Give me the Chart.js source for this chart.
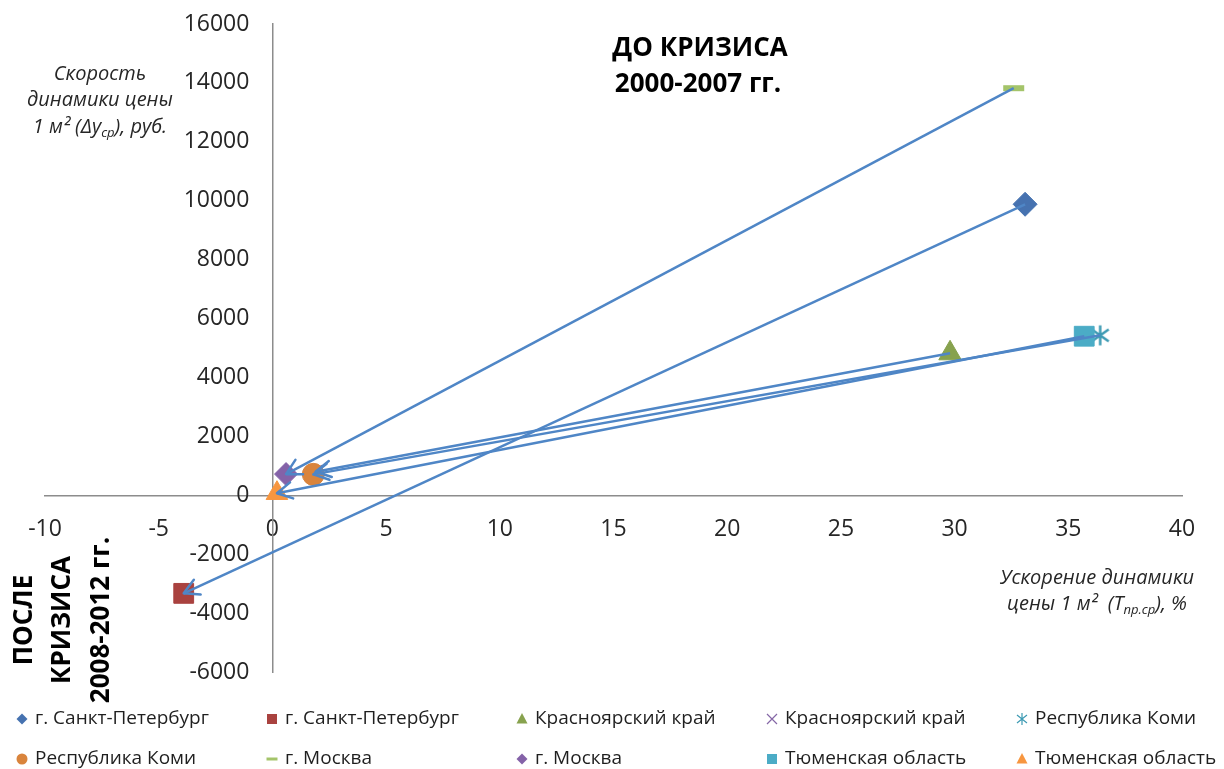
<!DOCTYPE html>
<html>
<head>
<meta charset="utf-8">
<script src="https://cdn.jsdelivr.net/npm/chart.js"></script>
<style>
  html, body { margin: 0; padding: 0; background: #fff; }
  #crisisChart { display: block; }
</style>
</head>
<body>
<canvas id="crisisChart" width="1224" height="769"></canvas>
<script>
// Price dynamics of 1 m2 housing by region: before the crisis (2000-2007) -> after (2008-2012)
var regions = ['г. Санкт-Петербург', 'Красноярский край', 'Республика Коми', 'г. Москва', 'Тюменская область'];

// before crisis (2000-2007)
var beforeX = [33.1, 29.8, 36.4, 32.6, 35.7];
var beforeY = [9880, 4820, 5430, 13820, 5400];
// after crisis (2008-2012)
var afterX = [-3.9, 1.9, 1.8, 0.6, 0.2];
var afterY = [-3330, 800, 710, 720, 70];

// axis ranges
var xMin = -10, xMax = 40, xStep = 5;
var yMin = -6000, yMax = 16000, yStep = 2000;

var FONT = '"Open Sans", "DejaVu Sans", sans-serif';
var arrowColor = '#4F86C6';

// marker for "Республика Коми" before the crisis: vertical bar + X
function asterisk(r, color, lw) {
  var c = document.createElement('canvas');
  var s = Math.ceil(2 * r + lw + 2);
  c.width = c.height = s;
  var g = c.getContext('2d');
  var m = s / 2, d = r * 0.85;
  g.strokeStyle = color;
  g.lineWidth = lw;
  g.beginPath();
  g.moveTo(m, m - r); g.lineTo(m, m + r);
  g.moveTo(m - d, m - d * 0.7); g.lineTo(m + d, m + d * 0.7);
  g.moveTo(m - d, m + d * 0.7); g.lineTo(m + d, m - d * 0.7);
  g.stroke();
  return c;
}

// one marker style per series: [before, after] for each region
var markerStyles = [
  { style: 'rectRot',  r: 12,  color: '#4672B0' },
  { style: 'rect',     r: 14,  color: '#A9423F' },
  { style: 'triangle', r: 13,  color: '#87A24E' },
  { style: 'crossRot', r: 9,   color: '#8567A6' },
  { style: 'asterisk', r: 10,  color: '#3D9AB3' },
  { style: 'circle',   r: 11,  color: '#D9843C' },
  { style: 'line',     r: 10.5, color: '#A4C46A' },
  { style: 'rectRot',  r: 11.5, color: '#8462A8' },
  { style: 'rect',     r: 14,  color: '#4BACC6' },
  { style: 'triangle', r: 12.5, color: '#F7963F' }
];

var datasets = [];

// arrows from the pre-crisis point to the post-crisis point
regions.forEach(function (name, k) {
  datasets.push({
    label: name,
    isArrow: true,
    data: [{ x: beforeX[k], y: beforeY[k] }, { x: afterX[k], y: afterY[k] }],
    showLine: true,
    borderColor: arrowColor,
    borderWidth: 2.5,
    pointRadius: 0,
    order: 0
  });
});

// markers
markerStyles.forEach(function (m, i) {
  var k = Math.floor(i / 2);
  var isBefore = i % 2 === 0;
  var ds = {
    label: regions[k],
    data: [isBefore ? { x: beforeX[k], y: beforeY[k] } : { x: afterX[k], y: afterY[k] }],
    backgroundColor: m.color,
    borderColor: m.color,
    borderWidth: 1,
    pointStyle: m.style,
    pointRadius: m.r,
    order: 20 - i
  };
  if (m.style === 'asterisk') {
    ds.pointStyle = asterisk(m.r, m.color, 2.5);
  } else if (m.style === 'line') {
    ds.borderWidth = 6;
  } else if (m.style === 'crossRot') {
    ds.borderWidth = 2;
  }
  datasets.push(ds);
});

// arrowheads at the post-crisis end of each arrow
var arrowHeads = {
  id: 'arrowHeads',
  afterDatasetsDraw: function (chart) {
    var ctx = chart.ctx;
    chart.data.datasets.forEach(function (ds, i) {
      if (!ds.isArrow) return;
      var pts = chart.getDatasetMeta(i).data;
      var a = pts[0], b = pts[1];
      var ang = Math.atan2(b.y - a.y, b.x - a.x);
      var L = 17;
      ctx.save();
      ctx.strokeStyle = ds.borderColor;
      ctx.lineWidth = ds.borderWidth;
      ctx.lineCap = 'round';
      ctx.beginPath();
      [-0.5, 0.5].forEach(function (s) {
        ctx.moveTo(b.x, b.y);
        ctx.lineTo(b.x - L * Math.cos(ang + s), b.y - L * Math.sin(ang + s));
      });
      ctx.stroke();
      ctx.restore();
    });
  }
};

// text made of runs, some of them subscript
function drawRuns(ctx, runs, cx, y, size, style) {
  var total = 0;
  runs.forEach(function (r) {
    ctx.font = style + ' ' + (r.sub ? size * 0.65 : size) + 'px ' + FONT;
    r.w = ctx.measureText(r.t).width;
    total += r.w;
  });
  var x = cx - total / 2;
  ctx.textAlign = 'left';
  ctx.textBaseline = 'middle';
  runs.forEach(function (r) {
    ctx.font = style + ' ' + (r.sub ? size * 0.65 : size) + 'px ' + FONT;
    ctx.fillText(r.t, x, r.sub ? y + size * 0.3 : y);
    x += r.w;
  });
}

var captions = {
  id: 'captions',
  afterDraw: function (chart) {
    var ctx = chart.ctx;
    ctx.save();
    ctx.fillStyle = '#000';
    ctx.textAlign = 'center';
    ctx.textBaseline = 'middle';
    ctx.font = 'bold 26px ' + FONT;
    ctx.fillText('ДО КРИЗИСА', 700, 49);
    ctx.fillText('2000-2007 гг.', 698, 85);

    // rotated caption for the post-crisis period
    ctx.save();
    ctx.translate(63, 620);
    ctx.rotate(-Math.PI / 2);
    ctx.fillText('ПОСЛЕ', 0, -38);
    ctx.fillText('КРИЗИСА', 0, 0);
    ctx.fillText('2008-2012 гг.', 0, 39);
    ctx.restore();

    ctx.fillStyle = '#262626';
    ctx.font = 'italic 20px ' + FONT;
    ctx.fillText('Скорость', 100, 74);
    ctx.fillText('динамики цены', 100, 100);
    drawRuns(ctx, [{ t: '1 м² (Δy' }, { t: 'ср', sub: true }, { t: '), руб.' }], 100, 127, 20, 'italic');

    ctx.textAlign = 'center';
    ctx.font = 'italic 20px ' + FONT;
    ctx.fillText('Ускорение динамики', 1097, 578);
    drawRuns(ctx, [{ t: 'цены 1 м²  (T' }, { t: 'пр.ср', sub: true }, { t: '), %' }], 1097, 604, 20, 'italic');
    ctx.restore();
  }
};

// small legend markers
function legendMarker(ctx, m, x, y) {
  ctx.fillStyle = m.color;
  ctx.strokeStyle = m.color;
  ctx.beginPath();
  if (m.style === 'rectRot') {
    ctx.moveTo(x, y - 5.5); ctx.lineTo(x + 5.5, y); ctx.lineTo(x, y + 5.5); ctx.lineTo(x - 5.5, y);
    ctx.closePath(); ctx.fill();
  } else if (m.style === 'rect') {
    ctx.rect(x - 5, y - 5, 10, 10); ctx.fill();
  } else if (m.style === 'triangle') {
    ctx.moveTo(x, y - 6); ctx.lineTo(x + 5.5, y + 4.5); ctx.lineTo(x - 5.5, y + 4.5);
    ctx.closePath(); ctx.fill();
  } else if (m.style === 'circle') {
    ctx.arc(x, y, 5.5, 0, Math.PI * 2); ctx.fill();
  } else if (m.style === 'line') {
    ctx.rect(x - 5.5, y - 1.5, 11, 3); ctx.fill();
  } else if (m.style === 'crossRot') {
    ctx.lineWidth = 1.2;
    ctx.moveTo(x - 5, y - 5); ctx.lineTo(x + 5, y + 5);
    ctx.moveTo(x - 5, y + 5); ctx.lineTo(x + 5, y - 5);
    ctx.stroke();
  } else if (m.style === 'asterisk') {
    ctx.lineWidth = 1.2;
    ctx.moveTo(x, y - 6); ctx.lineTo(x, y + 6);
    ctx.moveTo(x - 5, y - 4); ctx.lineTo(x + 5, y + 4);
    ctx.moveTo(x - 5, y + 4); ctx.lineTo(x + 5, y - 4);
    ctx.stroke();
  }
}

var gridLegend = {
  id: 'gridLegend',
  afterDraw: function (chart) {
    var ctx = chart.ctx;
    ctx.save();
    markerStyles.forEach(function (m, i) {
      var col = i % 5, row = Math.floor(i / 5);
      var x = 22 + col * 250, y = 719 + row * 40;
      legendMarker(ctx, m, x, y);
      ctx.fillStyle = '#1f1f1f';
      ctx.font = '19px ' + FONT;
      ctx.textAlign = 'left';
      ctx.textBaseline = 'middle';
      ctx.fillText(regions[Math.floor(i / 2)], x + 13, y);
    });
    ctx.restore();
  }
};

var ctx = document.getElementById('crisisChart').getContext('2d');
var crisisChart = new Chart(ctx, {
  type: 'scatter',
  data: { datasets: datasets },
  plugins: [arrowHeads, captions, gridLegend],
  options: {
    responsive: false,
    animation: false,
    layout: { padding: { left: 45, right: 42, top: 24, bottom: 97 } },
    plugins: {
      legend: { display: false },
      tooltip: { enabled: false }
    },
    scales: {
      x: {
        type: 'linear',
        min: xMin,
        max: xMax,
        position: { y: 0 },
        grid: { display: true, drawOnChartArea: false, drawTicks: false },
        border: { display: true, color: '#8C8C8C', width: 1.5 },
        ticks: {
          stepSize: xStep, padding: 20, color: '#262626', font: { size: 23, family: FONT },
          callback: function (v) { return String(v); }
        }
      },
      y: {
        type: 'linear',
        min: yMin,
        max: yMax,
        position: { x: 0 },
        grid: { display: true, drawOnChartArea: false, drawTicks: false },
        border: { display: true, color: '#8C8C8C', width: 1.5 },
        ticks: {
          stepSize: yStep, color: '#262626', font: { size: 23, family: FONT },
          // labels sit left of the axis line, with a gap
          callback: function (v) { return String(v) + '\u2003'; }
        }
      }
    }
  }
});
</script>
</body>
</html>
